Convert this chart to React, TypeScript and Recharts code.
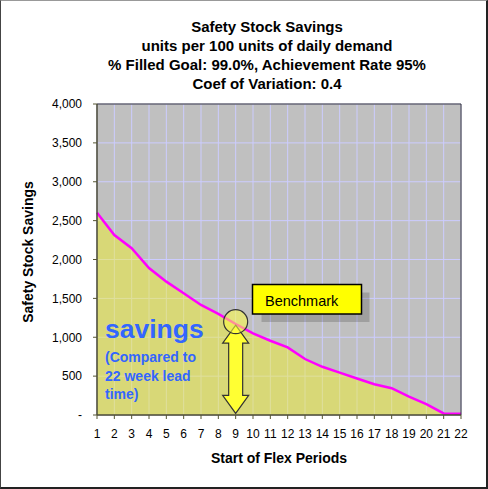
import {
    ComposedChart, Area, XAxis, YAxis, CartesianGrid, ReferenceDot, ReferenceLine, ReferenceArea
} from 'recharts';

const periods = [1, 2, 3, 4, 5, 6, 7, 8, 9, 10, 11, 12, 13, 14, 15, 16, 17, 18, 19, 20, 21, 22];
const savings = [2600, 2315, 2145, 1890, 1715, 1565, 1415, 1300, 1170, 1050, 955, 870, 720, 620, 545, 470, 395, 345, 235, 140, 20, 15];
const yTicks = [0, 500, 1000, 1500, 2000, 2500, 3000, 3500, 4000];
const titleLines = [
    'Safety Stock Savings',
    'units per 100 units of daily demand',
    '% Filled Goal: 99.0%, Achievement Rate 95%',
    'Coef of Variation: 0.4',
];
const benchmarkPeriod = 9;
const benchmarkValue = 1200;

const data = periods.map((p, i) => ({ period: p, savings: savings[i] }));

const FONT = 'Arial, "Liberation Sans", sans-serif';

// double headed arrow drawn between the two ends of a reference segment
function DoubleArrow(props: any) {
    const cx = props.x1;
    const top = Math.min(props.y1, props.y2);
    const bot = Math.max(props.y1, props.y2);
    const hw = 13, sw = 7, hh = 18;
    const pts = [
        [cx, top], [cx + hw, top + hh], [cx + sw, top + hh], [cx + sw, bot - hh], [cx + hw, bot - hh],
        [cx, bot], [cx - hw, bot - hh], [cx - sw, bot - hh], [cx - sw, top + hh], [cx - hw, top + hh],
    ].map(p => p.join(',')).join(' ');
    return <polygon points={pts} fill="#ffff33" stroke="#333" strokeWidth={1.2} />;
}

export default function App() {
    return (
        <div style={{ position: 'absolute', left: 0, top: 0, width: 488, height: 489, background: '#fff', fontFamily: FONT }}>
            <div style={{ position: 'absolute', left: 0, top: 0 }}>
                <ComposedChart width={488} height={489} data={data} margin={{ top: 104, right: 27, bottom: 44, left: 37 }}>
                    <CartesianGrid stroke="#ccccff" fill="#c0c0c0" />
                    <XAxis
                        dataKey="period"
                        type="number"
                        domain={[1, 22]}
                        ticks={periods}
                        interval={0}
                        height={30}
                        tickSize={4}
                        tickMargin={10}
                        stroke="#555533"
                        tick={{ fill: '#000', fontSize: 12, fontFamily: FONT }}
                    />
                    <YAxis
                        domain={[0, 4000]}
                        ticks={yTicks}
                        interval={0}
                        width={60}
                        tickSize={4}
                        tickMargin={11}
                        stroke="#555533"
                        tick={{ fill: '#000', fontSize: 12, fontFamily: FONT }}
                        tickFormatter={(v: number) => (v === 0 ? '-' : v.toLocaleString('en-US'))}
                    />
                    <Area
                        type="linear"
                        dataKey="savings"
                        stroke="#ff00ff"
                        strokeWidth={2.5}
                        fill="#ffff00"
                        fillOpacity={0.38}
                        isAnimationActive={false}
                    />
                    <ReferenceArea x1={1} x2={22} y1={0} y2={4000} fill="none" stroke="#333" strokeWidth={1} />
                    <ReferenceLine
                        segment={[{ x: benchmarkPeriod, y: 1155 }, { x: benchmarkPeriod, y: 20 }]}
                        shape={DoubleArrow}
                    />
                    <ReferenceDot x={benchmarkPeriod} y={benchmarkValue} r={12} fill="#ffff44" fillOpacity={0.55} stroke="#333" strokeWidth={1.2} />
                </ComposedChart>
            </div>
            <svg width={488} height={489} style={{ position: 'absolute', left: 0, top: 0, pointerEvents: 'none' }}>
                {titleLines.map((t, i) => (
                    <text key={t} x={267} y={32 + i * 19} textAnchor="middle" fontSize={15} fontWeight="bold" fontFamily={FONT} fill="#000">{t}</text>
                ))}
                <text x={0} y={0} transform="translate(33,252) rotate(-90)" textAnchor="middle" fontSize={14} fontWeight="bold" fontFamily={FONT}>Safety Stock Savings</text>
                <text x={279} y={463} textAnchor="middle" fontSize={14} fontWeight="bold" fontFamily={FONT}>Start of Flex Periods</text>

                <text x={105} y={338} fontSize={26.5} fontWeight="bold" fontFamily={FONT} fill="#3366ff">savings</text>
                <text x={105} y={362} fontSize={14} fontWeight="bold" fontFamily={FONT} fill="#3366ff">(Compared to</text>
                <text x={105} y={380.5} fontSize={14} fontWeight="bold" fontFamily={FONT} fill="#3366ff">22 week lead</text>
                <text x={105} y={399} fontSize={14} fontWeight="bold" fontFamily={FONT} fill="#3366ff">time)</text>

                <rect x={261.5} y={292.5} width={108} height={29.5} fill="rgba(0,0,0,0.17)" />
                <rect x={252.5} y={284.5} width={109} height={29.5} fill="#ffff00" stroke="#000" strokeWidth={1.5} />
                <text x={265} y={305.5} fontSize={14.5} fontFamily={FONT} fill="#000">Benchmark</text>
            </svg>
            <div style={{
                position: 'absolute', left: 0, top: 0, width: 488, height: 489, boxSizing: 'border-box',
                borderLeft: '1px solid #444', borderTop: '1px solid #999', borderRight: '2px solid #222', borderBottom: '2px solid #222',
                pointerEvents: 'none',
            }} />
        </div>
    );
}
